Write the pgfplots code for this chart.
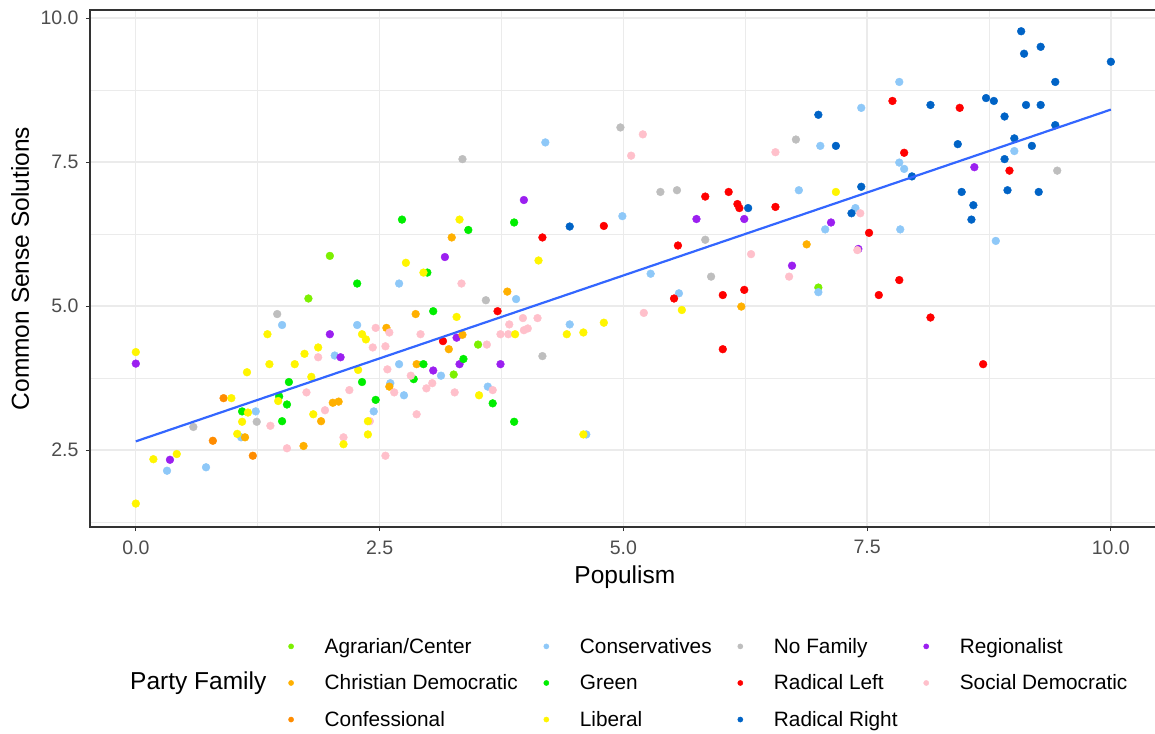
\documentclass[border=0pt]{standalone}
\usepackage{fontspec}
\setmainfont{Liberation Sans}
\usepackage{pgfplots}
\pgfplotsset{compat=1.18}

\definecolor{agr}{HTML}{7CF000}
\definecolor{chd}{HTML}{FFB000}
\definecolor{conf}{HTML}{FF8C00}
\definecolor{cons}{HTML}{8EC8F8}
\definecolor{grn}{HTML}{00EE00}
\definecolor{lib}{HTML}{FFF500}
\definecolor{nof}{HTML}{BEBEBE}
\definecolor{rl}{HTML}{FF0000}
\definecolor{rr}{HTML}{0063C6}
\definecolor{reg}{HTML}{9B1FF0}
\definecolor{sd}{HTML}{FFC0CB}
\definecolor{gray20}{HTML}{333333}
\definecolor{gray30}{HTML}{4D4D4D}
\definecolor{gridc}{HTML}{EBEBEB}
\definecolor{fit}{HTML}{3366FF}

\pgfplotsset{
  dot/.style={only marks, mark=*, mark size=3.9pt, color=#1,
    mark options={draw=none, fill=#1},
    legend image code/.code={\draw[##1, mark size=2.6pt] plot coordinates {(0pt,0pt)};}},
}

\begin{document}
\begin{tikzpicture}
\useasboundingbox (0,0) rectangle (1155pt,733pt);
\begin{axis}[
  at={(90pt,206pt)}, anchor=south west,
  scale only axis, width=1069.6pt, height=517pt,
  xmin=-0.47, xmax=10.5, ymin=1.163, ymax=10.139,
  xtick={0,2.5,5,7.5,10}, ytick={2.5,5,7.5,10},
  minor xtick={1.25,3.75,6.25,8.75}, minor ytick={1.25,3.75,6.25,8.75},
  grid=both,
  major grid style={color=gridc, line width=1.3pt},
  minor grid style={color=gridc, line width=0.65pt},
  minor tick length=0pt, major tick length=4pt,
  tick align=outside, tick pos=left,
  tick style={color=gray20, line width=0.9pt},
  axis line style={color=gray20, line width=1.1pt},
  ticklabel style={font=\fontsize{19.5}{23}\selectfont, color=gray30},
  xticklabel style={yshift=-6pt},
  yticklabel style={xshift=-4pt},
  /pgf/number format/assume math mode=true,
  /pgf/number format/.cd, fixed, fixed zerofill, precision=1, /pgfplots/.cd,
  xlabel={Populism}, ylabel={Common Sense Solutions},
  label style={font=\fontsize{24.5}{28}\selectfont},
  xlabel style={at={(axis description cs:0.5,-0.0967)}, anchor=center},
  ylabel style={at={(axis description cs:-0.0654,0.5)}, anchor=center},
  clip mode=individual,
  legend columns=4,
  legend cell align=left,
  legend style={at={(axis description cs:0.1854,-0.3017)}, anchor=west,
    draw=none, fill=none, inner sep=0pt,
    font=\fontsize{20.8}{24}\selectfont, row sep=16pt,
    /tikz/every odd column/.append style={column sep=29pt},
    /tikz/every even column/.append style={column sep=24pt}},
]
% row 1 of legend
\addplot[dot=agr] coordinates {(1.99,5.87) (1.77,5.13) (3.51,4.33) (3.26,3.81) (7.00,5.32)};
\addlegendentry{Agrarian/Center}
\addplot[dot=cons] coordinates {(0.32,2.14) (0.72,2.20) (1.23,3.17) (1.08,2.72) (1.50,4.67) (2.27,4.67) (2.04,4.14) (2.44,3.17) (4.20,7.84) (2.70,5.39) (3.90,5.12) (2.61,3.66) (2.75,3.45) (3.13,3.79) (2.70,3.99) (3.61,3.60) (4.45,4.68) (4.62,2.77) (4.99,6.56) (7.44,8.44) (7.02,7.78) (6.80,7.01) (7.38,6.70) (7.07,6.33) (5.28,5.56) (7.00,5.24) (5.57,5.22) (7.83,8.89) (9.01,7.69) (7.83,7.49) (7.88,7.38) (7.84,6.33) (8.82,6.13)};
\addlegendentry{Conservatives}
\addplot[dot=nof] coordinates {(0.59,2.90) (1.24,2.99) (1.45,4.86) (3.35,7.55) (3.59,5.10) (4.17,4.13) (4.97,8.10) (6.77,7.89) (5.38,6.98) (5.55,7.01) (5.84,6.15) (5.90,5.51) (9.45,7.35)};
\addlegendentry{No Family}
\addplot[dot=reg] coordinates {(0.00,4.00) (0.35,2.33) (1.99,4.51) (2.10,4.11) (3.98,6.84) (3.17,5.85) (3.29,4.45) (3.32,3.99) (3.74,3.99) (3.05,3.88) (5.75,6.51) (6.24,6.51) (7.13,6.45) (6.73,5.70) (7.41,5.99) (8.60,7.41)};
\addlegendentry{Regionalist}
% row 2
\addplot[dot=chd] coordinates {(1.12,2.72) (2.02,3.32) (2.08,3.34) (1.90,3.00) (1.72,2.57) (2.57,4.62) (2.60,3.60) (3.24,6.19) (3.81,5.25) (2.87,4.86) (3.35,4.50) (3.21,4.25) (2.88,3.99) (6.88,6.07) (6.21,4.99)};
\addlegendentry{Christian Democratic}
\addplot[dot=grn] coordinates {(2.27,5.39) (1.57,3.68) (2.32,3.68) (1.47,3.43) (1.55,3.29) (2.46,3.37) (1.50,3.00) (1.09,3.17) (2.73,6.50) (3.41,6.32) (3.88,6.45) (2.99,5.58) (3.05,4.91) (3.36,4.08) (2.95,3.99) (2.85,3.73) (3.66,3.31) (3.88,2.99)};
\addlegendentry{Green}
\addplot[dot=rl] coordinates {(3.71,4.91) (4.17,6.19) (3.15,4.39) (5.84,6.90) (6.08,6.98) (6.17,6.77) (6.19,6.70) (6.56,6.72) (4.80,6.39) (7.52,6.27) (5.56,6.05) (7.62,5.19) (5.52,5.13) (6.02,5.19) (6.24,5.28) (6.02,4.25) (7.76,8.56) (8.45,8.44) (7.88,7.66) (8.96,7.35) (7.83,5.45) (8.15,4.80) (8.69,3.99)};
\addlegendentry{Radical Left}
\addplot[dot=sd] coordinates {(2.46,4.62) (2.43,4.28) (2.56,4.30) (1.87,4.11) (2.58,3.90) (2.19,3.54) (1.75,3.50) (1.38,2.92) (1.94,3.19) (2.40,3.00) (2.13,2.72) (1.55,2.53) (2.56,2.40) (3.34,5.39) (2.60,4.54) (2.92,4.51) (3.60,4.33) (3.74,4.51) (3.82,4.51) (3.83,4.68) (3.97,4.79) (4.12,4.79) (3.98,4.58) (4.02,4.61) (2.82,3.79) (2.65,3.50) (2.98,3.57) (3.04,3.66) (3.27,3.50) (3.66,3.54) (2.88,3.12) (5.20,7.98) (5.08,7.61) (6.56,7.67) (7.43,6.61) (7.40,5.97) (6.31,5.90) (6.70,5.51) (5.21,4.88)};
\addlegendentry{Social Democratic}
% row 3
\addplot[dot=conf] coordinates {(0.90,3.40) (1.20,2.40) (0.79,2.66)};
\addlegendentry{Confessional}
\addplot[dot=lib] coordinates {(0.00,4.20) (0.00,1.57) (0.18,2.34) (0.42,2.43) (0.98,3.40) (1.14,3.85) (1.15,3.15) (1.09,2.99) (1.04,2.78) (1.35,4.51) (2.32,4.51) (2.36,4.42) (1.87,4.28) (1.73,4.17) (1.37,3.99) (1.63,3.99) (1.80,3.77) (2.28,3.89) (1.46,3.35) (1.82,3.12) (2.38,3.00) (2.38,2.77) (2.13,2.60) (3.32,6.50) (2.77,5.75) (4.13,5.79) (2.95,5.58) (3.29,4.81) (3.89,4.51) (4.42,4.51) (4.59,4.54) (3.52,3.45) (4.59,2.77) (7.18,6.98) (5.60,4.93) (4.80,4.71)};
\addlegendentry{Liberal}
\addplot[dot=rr] coordinates {(4.45,6.38) (7.00,8.32) (7.18,7.78) (7.44,7.07) (6.28,6.70) (7.34,6.61) (9.08,9.77) (9.11,9.38) (9.28,9.50) (10.00,9.24) (9.43,8.89) (8.15,8.49) (8.72,8.61) (8.80,8.56) (8.91,8.29) (9.13,8.49) (9.28,8.49) (9.43,8.14) (9.01,7.91) (9.19,7.78) (8.43,7.81) (8.91,7.55) (7.96,7.25) (8.47,6.98) (8.94,7.01) (9.26,6.98) (8.59,6.75) (8.57,6.50)};
\addlegendentry{Radical Right}
% linear fit
\addplot[forget plot, color=fit, line width=2.2pt] coordinates {(0,2.65) (10,8.41)};
\node[anchor=west, inner sep=0pt, font=\fontsize{24.5}{28}\selectfont] at (axis description cs:0.0374,-0.3017) {Party Family};
\end{axis}
\end{tikzpicture}
\end{document}
